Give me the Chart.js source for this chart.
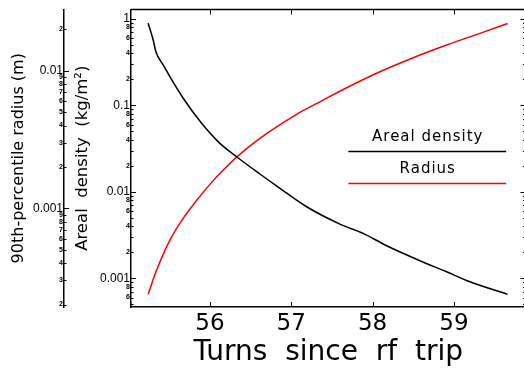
<!DOCTYPE html>
<html><head><meta charset="utf-8">
<style>html,body{margin:0;padding:0;background:#fff;overflow:hidden;width:524px;height:372px}canvas{display:block}</style>
<script src="https://cdn.jsdelivr.net/npm/chart.js@4.4.0/dist/chart.umd.min.js"></script>
</head><body>
<canvas id="c" width="528" height="372"></canvas>
<script>
// ---- data ----
const turnsDensity = [55.241, 55.303, 55.336, 55.426, 55.508, 55.672, 55.898, 56.123, 56.328, 56.615, 56.861, 57.189, 57.599, 57.885, 58.173, 58.582, 58.910, 59.197, 59.660];
const arealDensity = [0.892, 0.571, 0.418, 0.294, 0.215, 0.121, 0.0621, 0.0364, 0.0255, 0.0161, 0.0110, 0.00673, 0.00424, 0.00331, 0.00238, 0.00160, 0.00119, 0.000912, 0.000652];
const turnsRadius = [55.241, 55.345, 55.508, 55.672, 55.836, 56.0, 56.164, 56.328, 56.594, 57.066, 57.393, 57.681, 58.090, 58.500, 58.910, 59.320, 59.660];
const radius90 = [0.000238, 0.000356, 0.000588, 0.000846, 0.001139, 0.001494, 0.001898, 0.002359, 0.003162, 0.004822, 0.006124, 0.007524, 0.009834, 0.012434, 0.015374, 0.018696, 0.022029];
const seriesLabels = ['Areal density', 'Radius'];

const xTicks = [56, 57, 58, 59];
const xTickLabels = ['56', '57', '58', '59'];
const arealTicks = [0.0005,0.0006,0.0007,0.0008,0.0009,0.001,0.002,0.003,0.004,0.005,0.006,0.007,0.008,0.009,0.01,0.02,0.03,0.04,0.05,0.06,0.07,0.08,0.09,0.1,0.2,0.3,0.4,0.5,0.6,0.7,0.8,0.9,1];
const arealTickLabels = ['','6','','8','','0.001','2','','4','','6','','8','','0.01','2','','4','','6','','8','','0.1','2','','4','','6','','8','','1'];
const radiusTicks = [0.0002,0.0003,0.0004,0.0005,0.0006,0.0007,0.0008,0.0009,0.001,0.002,0.003,0.004,0.005,0.006,0.007,0.008,0.009,0.01,0.02];
const radiusTickLabels = ['2','3','4','5','6','7','8','9','0.001','2','3','4','5','6','7','8','9','0.01','2'];

const FAM = "'DejaVu Sans', sans-serif";
const isMajor = v => Math.abs(Math.log10(v) - Math.round(Math.log10(v))) < 1e-9;
const tickFont = c => (c.tick && isMajor(c.tick.value))
  ? {family: "'Liberation Sans', Arial, sans-serif", size: 12}
  : {family: "'Liberation Sans', Arial, sans-serif", size: 7, weight: 'bold'};

const frame = {
  id: 'frame',
  afterDraw(chart) {
    const ctx = chart.ctx, ca = chart.chartArea;
    ctx.save();
    ctx.strokeStyle = '#000';
    ctx.lineWidth = 1.5;
    ctx.beginPath();
    ctx.moveTo(ca.left, ca.top); ctx.lineTo(ca.right, ca.top); ctx.lineTo(ca.right, ca.bottom);
    ctx.stroke();
    ctx.lineWidth = 1;
    ctx.beginPath();
    const sx = chart.scales.x;
    sx.ticks.forEach(t => {
      const p = Math.round(sx.getPixelForValue(t.value)) + 0.5;
      ctx.moveTo(p, ca.bottom); ctx.lineTo(p, ca.bottom - 5);
      ctx.moveTo(p, ca.top); ctx.lineTo(p, ca.top + 5);
    });
    const sy = chart.scales.y;
    sy.ticks.forEach(t => {
      const p = Math.round(sy.getPixelForValue(t.value)) + 0.5;
      const len = isMajor(t.value) ? 5 : 2.5;
      ctx.moveTo(ca.left, p); ctx.lineTo(ca.left + len, p);
      ctx.moveTo(ca.right, p); ctx.lineTo(ca.right - len, p);
    });
    const s2 = chart.scales.y2;
    s2.ticks.forEach(t => {
      const p = Math.round(s2.getPixelForValue(t.value)) + 0.5;
      const len = isMajor(t.value) ? 5 : 2.5;
      ctx.moveTo(s2.right, p); ctx.lineTo(s2.right + len, p);
    });
    ctx.stroke();
    ctx.restore();
  }
};

const legendBox = {
  id: 'legendBox',
  afterDraw(chart) {
    const ctx = chart.ctx, ca = chart.chartArea;
    const w = ca.right - ca.left, h = ca.bottom - ca.top;
    const x0 = ca.left + 0.551 * w, x1 = ca.left + 0.951 * w;
    const y0 = ca.top + 0.4746 * h;
    ctx.save();
    chart.data.datasets.forEach((ds, i) => {
      const ly = Math.round(y0 + i * 32) + 0.5;
      ctx.font = "15px " + FAM;
      ctx.letterSpacing = '1px';
      ctx.fillStyle = '#000';
      ctx.textAlign = 'center';
      ctx.textBaseline = 'alphabetic';
      ctx.fillText(ds.label, (x0 + x1) / 2 + 0.5, ly - 10.5);
      ctx.letterSpacing = '0px';
      ctx.strokeStyle = ds.borderColor;
      ctx.lineWidth = 1.5;
      ctx.beginPath(); ctx.moveTo(x0, ly); ctx.lineTo(x1, ly); ctx.stroke();
    });
    ctx.restore();
  }
};

new Chart(document.getElementById('c'), {
  type: 'line',
  data: {
    datasets: [
      {label: seriesLabels[0], data: turnsDensity.map((x, i) => ({x, y: arealDensity[i]})),
       borderColor: '#000000', borderWidth: 1.5, pointRadius: 0, yAxisID: 'y', cubicInterpolationMode: 'monotone'},
      {label: seriesLabels[1], data: turnsRadius.map((x, i) => ({x, y: radius90[i]})),
       borderColor: '#ff0000', borderWidth: 1.5, pointRadius: 0, yAxisID: 'y2', cubicInterpolationMode: 'monotone'}
    ]
  },
  options: {
    responsive: false, animation: false, devicePixelRatio: 1,
    layout: {padding: {left: 0, top: 9.5, right: 2.5, bottom: 0}, autoPadding: false},
    plugins: {legend: {display: false}, tooltip: {enabled: false}},
    scales: {
      x: {
        type: 'linear', position: 'bottom', min: 55.03, max: 59.88,
        afterBuildTicks: s => { s.ticks = xTicks.map(v => ({value: v})); },
        afterFit: s => { s.height = 65; },
        ticks: {callback: (v, i) => xTickLabels[i], font: {family: FAM, size: 23}, color: '#000', padding: 3, autoSkip: false, maxRotation: 0},
        grid: {display: false, drawTicks: false},
        border: {display: true, color: '#000', width: 1.5},
        title: {display: true, text: 'Turns  since  rf  trip', color: '#000', font: {family: FAM, size: 28}, padding: {top: 0, bottom: 2}}
      },
      y: {
        type: 'logarithmic', position: 'left', weight: 1, min: 0.000466, max: 1.288,
        afterBuildTicks: s => { s.ticks = arealTicks.map(v => ({value: v})); },
        afterFit: s => { s.width = 67; },
        ticks: {callback: (v, i) => arealTickLabels[i], font: tickFont, color: '#000', padding: 1, autoSkip: false},
        grid: {display: false, drawTicks: false},
        border: {display: true, color: '#000', width: 1.5},
        title: {display: true, text: 'Areal  density  (kg/m²)', color: '#000', font: {family: FAM, size: 16.5}, padding: {top: 8.4, bottom: 0}}
      },
      y2: {
        type: 'logarithmic', position: 'left', weight: 2, min: 0.000192, max: 0.02786,
        afterBuildTicks: s => { s.ticks = radiusTicks.map(v => ({value: v})); },
        afterFit: s => { s.width = 64; },
        ticks: {callback: (v, i) => radiusTickLabels[i], font: tickFont, color: '#000', padding: 1, autoSkip: false},
        grid: {display: false, drawTicks: false},
        border: {display: true, color: '#000', width: 1.5},
        title: {display: true, text: '90th-percentile radius (m)', color: '#000', font: {family: FAM, size: 16}, padding: {top: 8.8, bottom: 0}}
      }
    }
  },
  plugins: [frame, legendBox]
});
</script>
</body></html>
